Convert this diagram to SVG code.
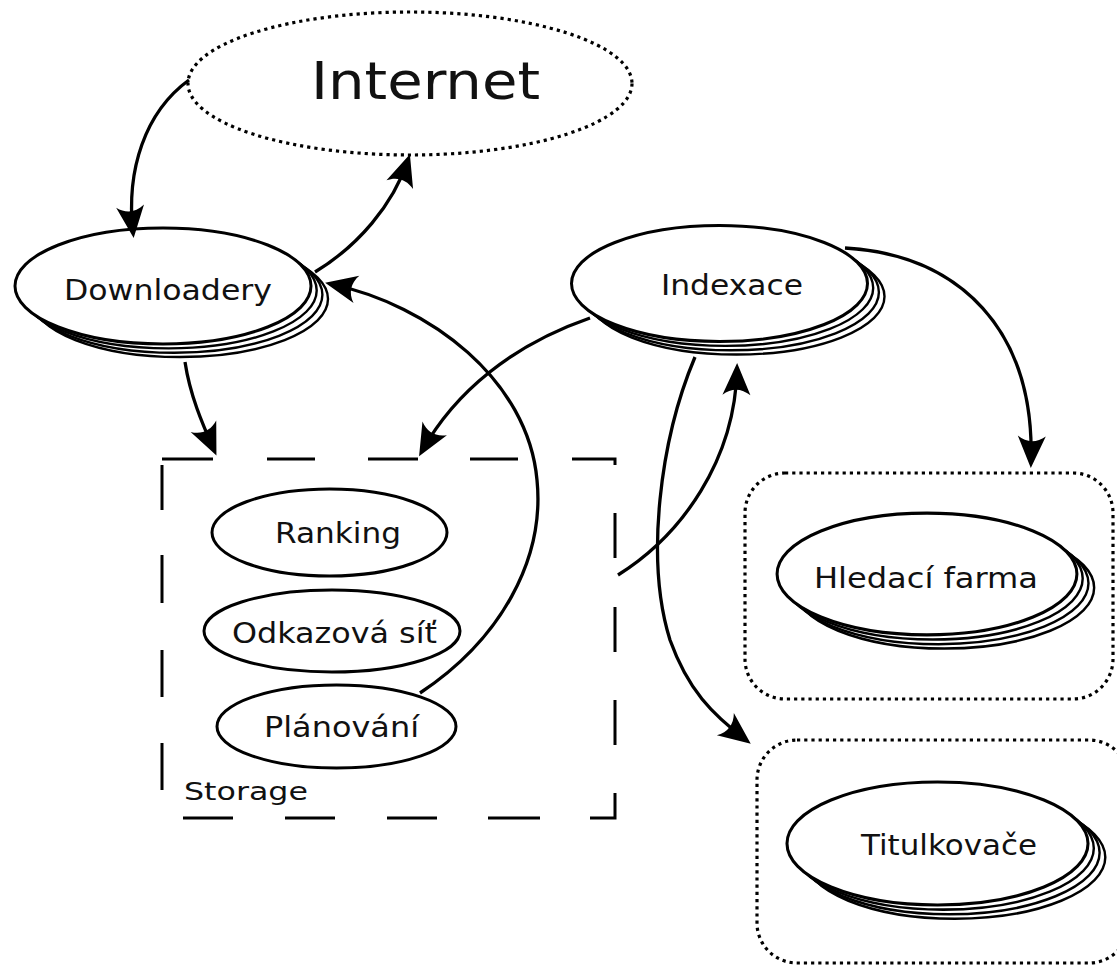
<svg xmlns="http://www.w3.org/2000/svg" width="1117" height="969" viewBox="0 0 1117 969">
  <style>
    text { font-family: "DejaVu Sans", "Liberation Sans", sans-serif; fill: #111; }
    .node { fill: #fff; stroke: #000; stroke-width: 3; }
    .copy { fill: #fff; stroke: #000; stroke-width: 2.4; }
    .dotted { fill: none; stroke: #000; stroke-width: 3.2; stroke-dasharray: 3.2 4; }
    .dashed { fill: none; stroke: #000; stroke-width: 3; }
    .edge { fill: none; stroke: #000; stroke-width: 3.3; marker-end: url(#arrow); }
    .lbl { font-size: 28px; }
  </style>
  <defs>
    <marker id="arrow" viewBox="-34 -17 42 34" markerWidth="42" markerHeight="34" refX="0" refY="0" orient="auto" markerUnits="userSpaceOnUse">
      <path d="M6,0 L-26,-14 C-19,-5 -19,5 -26,14 Z" fill="#000"/>
    </marker>
    <!-- stacked ellipse used for multi-instance services -->
    <g id="stack">
      <ellipse class="copy" cx="17" cy="13" rx="148" ry="58"/>
      <ellipse class="copy" cx="11.4" cy="8.8" rx="148" ry="58"/>
      <ellipse class="copy" cx="5.7" cy="4.4" rx="148" ry="58"/>
      <ellipse class="node" cx="0" cy="0" rx="148" ry="58"/>
    </g>
  </defs>

  <rect width="1117" height="969" fill="#fff"/>

  <!-- Internet cloud -->
  <g id="internet">
    <ellipse class="dotted" cx="410" cy="83.5" rx="222" ry="71.5"/>
    <text x="311" y="99" font-size="51" textLength="229" lengthAdjust="spacingAndGlyphs">Internet</text>
  </g>

  <!-- Downloaders -->
  <g id="downloadery">
    <use href="#stack" x="163" y="286"/>
    <text class="lbl" x="64" y="300" textLength="208" lengthAdjust="spacingAndGlyphs">Downloadery</text>
  </g>

  <!-- Indexing -->
  <g id="indexace">
    <use href="#stack" x="719.5" y="283.5"/>
    <text class="lbl" x="661" y="295" textLength="142" lengthAdjust="spacingAndGlyphs">Indexace</text>
  </g>

  <!-- Storage container (long-dash outline) -->
  <g id="storage">
    <path class="dashed" d="M162,459 H213 M267,459 H315 M368,459 H418 M470,459 H518 M572,459 H615 V465
      M615,513 V558 M615,607 V652 M615,700 V745 M615,793 V818 H590
      M540,818 H488 M437,818 H387 M335,818 H285 M233,818 H183
      M162,790 V743 M162,697 V650 M162,603 V555 M162,510 V465"/>
    <text x="184" y="800" font-size="25" textLength="124" lengthAdjust="spacingAndGlyphs">Storage</text>
  </g>

  <g id="ranking">
    <ellipse class="node" cx="329.5" cy="532.5" rx="117.5" ry="43.5"/>
    <text class="lbl" x="275" y="543" textLength="126" lengthAdjust="spacingAndGlyphs">Ranking</text>
  </g>

  <g id="odkazova-sit">
    <ellipse class="node" cx="332" cy="631" rx="128" ry="41"/>
    <text class="lbl" x="232" y="643" textLength="205" lengthAdjust="spacingAndGlyphs">Odkazová síť</text>
  </g>

  <g id="planovani">
    <ellipse class="node" cx="336.5" cy="726.5" rx="119.5" ry="41.5"/>
    <text class="lbl" x="264" y="737" textLength="155" lengthAdjust="spacingAndGlyphs">Plánování</text>
  </g>

  <!-- Search farm -->
  <g id="hledaci-farma">
    <rect class="dotted" x="745" y="473" width="368" height="226" rx="40" ry="40"/>
    <use href="#stack" transform="translate(927 574) scale(1.013 1.05)"/>
    <text x="814" y="588" font-size="29" textLength="224" lengthAdjust="spacingAndGlyphs">Hledací farma</text>
  </g>

  <!-- Snippet generators -->
  <g id="titulkovace">
    <rect class="dotted" x="757" y="740" width="372" height="223" rx="40" ry="40"/>
    <use href="#stack" transform="translate(937.5 843.5) scale(1.017 1.06)"/>
    <text x="861" y="855" font-size="29" textLength="176" lengthAdjust="spacingAndGlyphs">Titulkovače</text>
  </g>

  <!-- Connectors -->
  <g id="connectors">
    <path class="edge" d="M189,80 C145,112 126,170 133,232"/>
    <path class="edge" d="M315,272 C358,246 393,205 408,160"/>
    <path class="edge" d="M420,693 C500,640 545,560 537,480 C528,380 430,305 331,284"/>
    <path class="edge" d="M185,362 C190,395 202,423 214,450"/>
    <path class="edge" d="M590,318 C512,345 455,392 422,451"/>
    <path class="edge" d="M618,575 C682,535 735,460 737,369"/>
    <path class="edge" d="M695,357 C660,440 645,560 670,640 C688,690 712,714 746,740"/>
    <path class="edge" d="M845,248 C960,255 1035,330 1031,462"/>
  </g>
</svg>
